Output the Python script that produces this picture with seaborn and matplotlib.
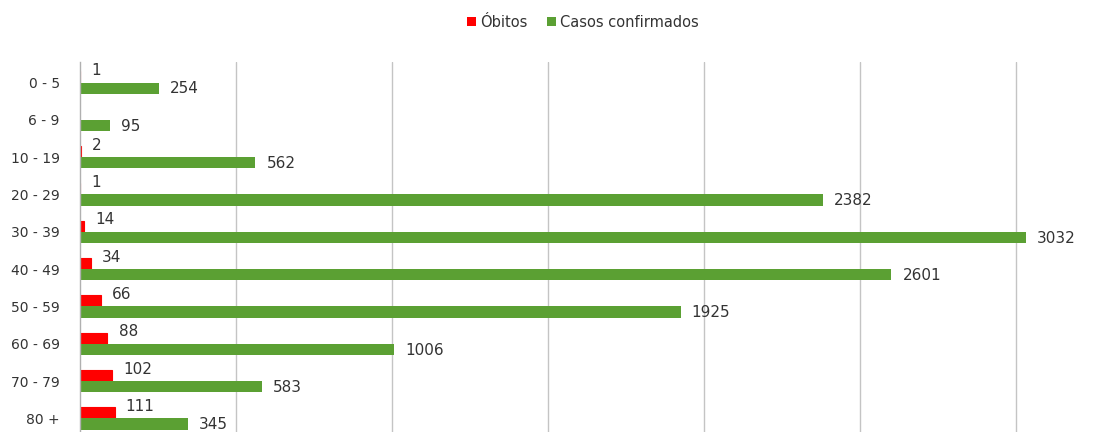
import matplotlib
matplotlib.use("Agg")
import matplotlib.pyplot as plt
import seaborn as sns
import pandas as pd

categories = ["0 - 5", "6 - 9", "10 - 19", "20 - 29", "30 - 39",
              "40 - 49", "50 - 59", "60 - 69", "70 - 79", "80 +"]
obitos = [1, 0, 2, 1, 14, 34, 66, 88, 102, 111]
casos = [254, 95, 562, 2382, 3032, 2601, 1925, 1006, 583, 345]
series_names = ["Óbitos", "Casos confirmados"]
colors = ["#FF0000", "#5BA033"]

df = pd.DataFrame({
    "faixa": categories * 2,
    "valor": obitos + casos,
    "serie": [series_names[0]] * len(categories) + [series_names[1]] * len(categories),
})

sns.set_style("white")
plt.rcParams["font.family"] = ["DejaVu Sans"]

fig = plt.figure(figsize=(10.98, 4.32), dpi=100)
ax = fig.add_axes([80 / 1098, -0.016, 1 - 80 / 1098, 0.8725])

sns.barplot(data=df, y="faixa", x="valor", hue="serie", order=categories,
            hue_order=series_names, palette=colors, orient="h",
            width=0.6, saturation=1, linewidth=0, ax=ax)

ax.set_xlim(0, 3263)
ax.set_ylim(9.55, -0.55)
ax.set_xticks([500, 1000, 1500, 2000, 2500, 3000])
ax.grid(axis="x", color="#c4c4c4", linewidth=1)
ax.grid(axis="y", visible=False)
ax.set_axisbelow(True)
for s in ["top", "right", "bottom"]:
    ax.spines[s].set_visible(False)
ax.spines["left"].set_color("#b0b0b0")
ax.spines["left"].set_linewidth(1)
ax.tick_params(left=False, bottom=False, labelbottom=False, pad=11)
ax.tick_params(axis="y", labelsize=10, labelcolor="#333333")
ax.set_xlabel("")
ax.set_ylabel("")

# make very small death bars visible as thin slivers (like the original)
for patch in ax.containers[0]:
    if patch.get_width() > 0:
        patch.set_edgecolor(colors[0])
        patch.set_linewidth(0.8)

# data labels
for ci, cont in enumerate(ax.containers):
    for patch in cont:
        val = patch.get_width()
        if val <= 0:
            continue
        x = patch.get_x() + val
        y = patch.get_y() + patch.get_height() / 2
        dy = 4.5 if ci == 0 else -0.5
        ax.annotate(f"{int(round(val))}", (x, y), xytext=(8, dy),
                    textcoords="offset points", va="center", ha="left",
                    fontsize=11, color="#333333", annotation_clip=False)

handles, labels = ax.get_legend_handles_labels()
if ax.get_legend() is not None:
    ax.get_legend().remove()
fig.legend(handles, labels, loc="center", bbox_to_anchor=(0.531, 0.949),
           ncol=2, frameon=False, handlelength=0.6, handleheight=0.6,
           handletextpad=0.3, columnspacing=1.3, fontsize=10.5,
           labelcolor="#333333")

fig.savefig("out.png", dpi=100)
